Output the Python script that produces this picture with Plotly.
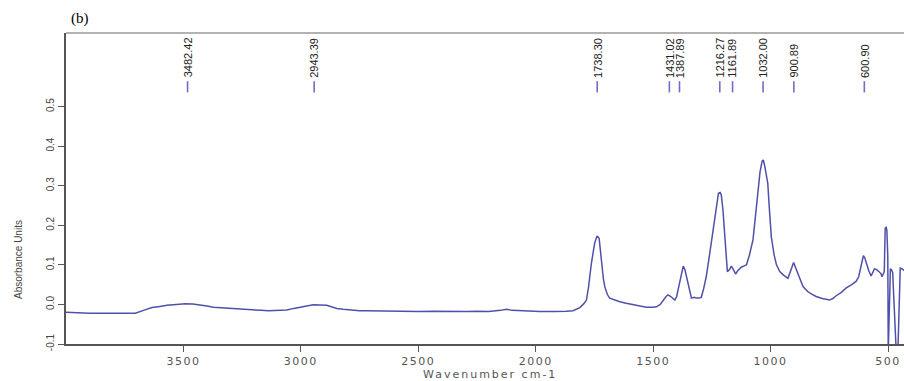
import plotly.graph_objects as go

# Spectrum data (wavenumber cm-1, absorbance units)
wavenumber = [4000, 3900, 3800, 3705, 3670, 3634, 3600, 3570, 3530, 3493, 3460, 3429, 3400, 3372,
              3330, 3287, 3240, 3202, 3170, 3138, 3100, 3060, 3030, 3004, 2975, 2947, 2920, 2890,
              2870, 2847, 2820, 2791, 2750, 2720, 2650, 2578, 2500, 2436, 2380, 2294, 2250, 2200,
              2150, 2124, 2100, 2068, 2020, 1983, 1920, 1897, 1870, 1841, 1812, 1795, 1784, 1775,
              1763, 1749, 1739, 1730, 1720, 1712, 1706, 1695, 1685, 1660, 1642, 1615, 1586, 1560,
              1529, 1500, 1486, 1470, 1458, 1445, 1437, 1425, 1408, 1400, 1394, 1382, 1372, 1365,
              1358, 1352, 1345, 1337, 1325, 1316, 1305, 1295, 1285, 1274, 1260, 1245, 1232, 1222,
              1215, 1210, 1203, 1196, 1190, 1184, 1175, 1167, 1158, 1149, 1140, 1125, 1110, 1103,
              1090, 1075, 1065, 1054, 1045, 1036, 1031, 1025, 1018, 1012, 1005, 997, 985, 975,
              961, 945, 926, 915, 902, 893, 883, 872, 862, 850, 841, 825, 806, 780, 749, 735,
              721, 700, 679, 655, 636, 625, 617, 605, 599, 593, 582, 572, 565, 558, 548, 537,
              530, 526, 520, 516, 512, 508, 505, 501, 499, 495, 493, 490, 485, 480, 477, 470,
              465, 458, 452, 448, 440, 434, 430]
absorbance = [-0.020, -0.022, -0.022, -0.022, -0.015, -0.008, -0.005, -0.002, 0.000, 0.002, 0.001,
              -0.001, -0.004, -0.007, -0.009, -0.010, -0.012, -0.014, -0.015, -0.016, -0.015,
              -0.014, -0.010, -0.008, -0.004, -0.001, -0.002, -0.002, -0.006, -0.010, -0.012,
              -0.014, -0.016, -0.016, -0.017, -0.018, -0.018, -0.017, -0.018, -0.018, -0.017,
              -0.018, -0.015, -0.012, -0.015, -0.016, -0.018, -0.018, -0.018, -0.018, -0.017,
              -0.016, -0.008, 0.002, 0.011, 0.045, 0.104, 0.155, 0.173, 0.167, 0.104, 0.065,
              0.045, 0.025, 0.016, 0.010, 0.007, 0.003, -0.001, -0.004, -0.007, -0.007, -0.006,
              0.000, 0.011, 0.020, 0.024, 0.020, 0.011, 0.020, 0.037, 0.075, 0.097, 0.088,
              0.070, 0.054, 0.030, 0.016, 0.018, 0.016, 0.016, 0.018, 0.040, 0.070, 0.125,
              0.188, 0.245, 0.281, 0.283, 0.277, 0.240, 0.188, 0.130, 0.083, 0.088, 0.097,
              0.088, 0.077, 0.085, 0.094, 0.098, 0.100, 0.125, 0.163, 0.220, 0.290, 0.335,
              0.362, 0.365, 0.350, 0.330, 0.306, 0.240, 0.171, 0.125, 0.100, 0.083, 0.074,
              0.066, 0.085, 0.106, 0.092, 0.075, 0.058, 0.045, 0.038, 0.032, 0.026, 0.020,
              0.015, 0.011, 0.015, 0.022, 0.030, 0.041, 0.050, 0.058, 0.070, 0.094, 0.123,
              0.118, 0.104, 0.085, 0.072, 0.082, 0.090, 0.088, 0.083, 0.078, 0.070, 0.080,
              0.083, 0.193, 0.195, 0.188, 0.121, -0.120, 0.000, 0.070, 0.090, 0.087, 0.080,
              0.037, -0.050, -0.120, -0.120, 0.000, 0.092, 0.090, 0.087, 0.085]

# Labelled peaks
peak_positions = [3482.42, 2943.39, 1738.30, 1431.02, 1387.89, 1216.27, 1161.89, 1032.00, 900.89, 600.90]
peak_labels = ["3482.42", "2943.39", "1738.30", "1431.02", "1387.89", "1216.27", "1161.89",
               "1032.00", "900.89", "600.90"]
peak_mark_level = 0.55
peak_label_level = 0.568

x_tickvals = [3500, 3000, 2500, 2000, 1500, 1000, 500]
x_ticktext = ["3500", "3000", "2500", "2000", "1500", "1000", "500"]
y_tickvals = [-0.1, 0.0, 0.1, 0.2, 0.3, 0.4, 0.5]
y_ticktext = ["-0.1", "0.0", "0.1", "0.2", "0.3", "0.4", "0.5"]

W, H = 904, 381
L, R, T, B = 66, 0, 33, 37
PW, PH = W - L - R, H - T - B


def spaced(s, px):
    return '<span style="letter-spacing:%spx">%s</span>' % (px, s)


fig = go.Figure()
fig.add_trace(go.Scatter(x=wavenumber, y=absorbance, mode="lines",
                         line=dict(color="rgb(80,80,170)", width=1.5), showlegend=False,
                         hoverinfo="skip"))
fig.add_trace(go.Scatter(x=peak_positions, y=[peak_mark_level] * len(peak_positions), mode="markers",
                         marker=dict(symbol="line-ns-open", size=8, color="rgb(110,110,200)",
                                     line=dict(color="rgb(110,110,200)", width=1.6)),
                         showlegend=False, hoverinfo="skip"))

for px, lab in zip(peak_positions, peak_labels):
    fig.add_annotation(x=px, y=peak_label_level, xref="x", yref="y", text=lab, textangle=-90,
                       showarrow=False, xanchor="center", yanchor="bottom",
                       font=dict(family="Liberation Sans, Arial", size=11, color="#222"))

fig.add_annotation(x=(80 - L) / PW, y=1 + (T - 18) / PH, xref="paper", yref="paper", text="(b)",
                   showarrow=False, xanchor="center", yanchor="middle",
                   font=dict(family="Liberation Serif, Times New Roman", size=15, color="#000"))

fig.add_annotation(x=-(L - 18) / PW, y=(H - B - 260) / PH, xref="paper", yref="paper",
                   text="Absorbance Units", textangle=-90, showarrow=False,
                   xanchor="center", yanchor="middle",
                   font=dict(family="Liberation Sans Narrow, Liberation Sans, Arial", size=10, color="#444"))

fig.add_annotation(x=(490 - L) / PW, y=-(374 - (H - B)) / PH, xref="paper", yref="paper",
                   text=spaced("Wavenumber cm-1", 2), showarrow=False, xanchor="center", yanchor="middle",
                   font=dict(family="DejaVu Sans", size=11, color="#555"))

fig.update_layout(
    width=W, height=H,
    margin=dict(l=L, r=R, t=T, b=B, autoexpand=False),
    paper_bgcolor="white", plot_bgcolor="white",
    font=dict(family="Liberation Sans, Arial", color="#444"),
)

fig.update_xaxes(range=[4000, 432], tickvals=x_tickvals, ticktext=[spaced(t, 1.5) for t in x_ticktext],
                 automargin=False,
                 showgrid=False, zeroline=False, showline=True, linecolor="#555", linewidth=1.5,
                 mirror=False, ticks="outside", ticklen=6, tickcolor="#555", tickwidth=1.2,
                 tickfont=dict(family="DejaVu Sans", size=11, color="#555"))
fig.update_yaxes(range=[-0.1, 0.686], tickvals=y_tickvals, ticktext=y_ticktext, tickangle=-90,
                 automargin=False,
                 showgrid=False, zeroline=False, showline=True, linecolor="#555", linewidth=1.5,
                 ticks="outside", ticklen=6, tickcolor="#555", tickwidth=1.2,
                 tickfont=dict(family="Liberation Sans, Arial", size=10, color="#444"))

# top border line
fig.add_shape(type="line", xref="paper", yref="paper", x0=0, x1=1, y0=1, y1=1,
              line=dict(color="#999", width=1.5))

fig.write_html("out.html", config={"displayModeBar": False},
               post_script="document.body.style.margin='0';document.body.style.overflow='hidden';")
